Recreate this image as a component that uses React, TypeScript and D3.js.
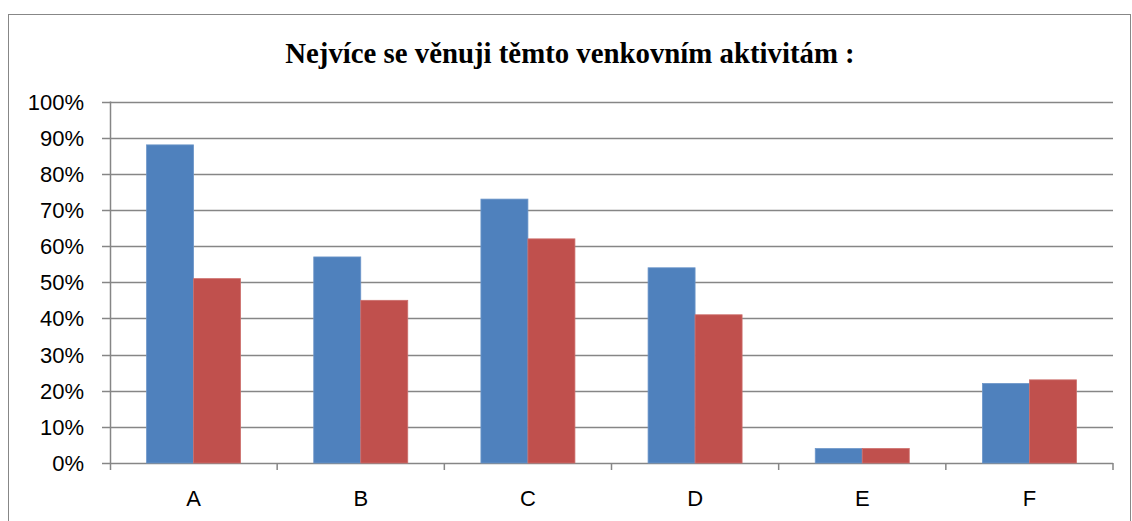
import React, { useEffect, useRef } from "react";
import * as d3 from "d3";

const categories = ["A", "B", "C", "D", "E", "F"];
const series1 = [88, 57, 73, 54, 4, 22];
const series2 = [51, 45, 62, 41, 4, 23];
const yTicks = [0, 10, 20, 30, 40, 50, 60, 70, 80, 90, 100];
const title = "Nejvíce se věnuji těmto venkovním aktivitám :";

const W = 1132;
const H = 521;

export default function App() {
  const ref = useRef<SVGSVGElement>(null);
  useEffect(() => {
    const svg = d3.select(ref.current!);
    svg.selectAll("*").remove();

    const left = 110, right = 1113, top = 101.5, bottom = 463;
    const x = d3.scaleBand().domain(categories).range([left, right]).paddingInner(0).paddingOuter(0);
    const y = d3.scaleLinear().domain([0, 100]).range([bottom, top]);

    // outer border
    svg.append("rect").attr("x", 8.5).attr("y", 14.5).attr("width", 1122).attr("height", 540)
      .attr("fill", "white").attr("stroke", "#878787").attr("stroke-width", 1);

    svg.append("text").attr("x", 570).attr("y", 63).attr("text-anchor", "middle")
      .attr("font-family", "Liberation Serif, Times New Roman, serif").attr("font-weight", "bold")
      .attr("font-size", 28.8).attr("fill", "#000").text(title);

    // gridlines
    svg.append("g").selectAll("line").data(yTicks).join("line")
      .attr("x1", left - 8).attr("x2", right)
      .attr("y1", d => Math.round(y(d)) + 0.5).attr("y2", d => Math.round(y(d)) + 0.5)
      .attr("stroke", "#868686").attr("stroke-width", 1.5);

    // y axis line
    svg.append("line").attr("x1", left + 0.5).attr("x2", left + 0.5).attr("y1", top).attr("y2", bottom + 7)
      .attr("stroke", "#868686").attr("stroke-width", 1.5);

    // category ticks
    const bounds = categories.map((c) => x(c)! + x.bandwidth());
    svg.append("g").selectAll("line").data(bounds).join("line")
      .attr("x1", d => d).attr("x2", d => d).attr("y1", bottom).attr("y2", bottom + 7)
      .attr("stroke", "#868686").attr("stroke-width", 1.5);

    // y labels
    svg.append("g").selectAll("text").data(yTicks).join("text")
      .attr("x", 84).attr("y", d => y(d) + 8).attr("text-anchor", "end")
      .attr("font-family", "Liberation Sans, Arial, sans-serif").attr("font-size", 22).attr("fill", "#000")
      .text(d => d + "%");

    // x labels
    svg.append("g").selectAll("text").data(categories).join("text")
      .attr("x", d => x(d)! + x.bandwidth() / 2).attr("y", 506).attr("text-anchor", "middle")
      .attr("font-family", "Liberation Sans, Arial, sans-serif").attr("font-size", 22).attr("fill", "#000")
      .text(d => d);

    const barW = 47;
    const g = svg.append("g");
    g.selectAll("rect.s1").data(series1).join("rect").attr("class", "s1")
      .attr("x", (d, i) => x(categories[i])! + x.bandwidth() / 2 - barW)
      .attr("width", barW).attr("y", d => y(d)).attr("height", d => bottom - y(d))
      .attr("fill", "#4F81BD").attr("stroke", "#6d96c9").attr("stroke-width", 0.8);
    g.selectAll("rect.s2").data(series2).join("rect").attr("class", "s2")
      .attr("x", (d, i) => x(categories[i])! + x.bandwidth() / 2)
      .attr("width", barW).attr("y", d => y(d)).attr("height", d => bottom - y(d))
      .attr("fill", "#C0504D").attr("stroke", "#cd6f6c").attr("stroke-width", 0.8);
  }, []);
  return (
    <svg ref={ref} width={W} height={H} style={{ position: "absolute", left: 0, top: 0, background: "white" }} />
  );
}
